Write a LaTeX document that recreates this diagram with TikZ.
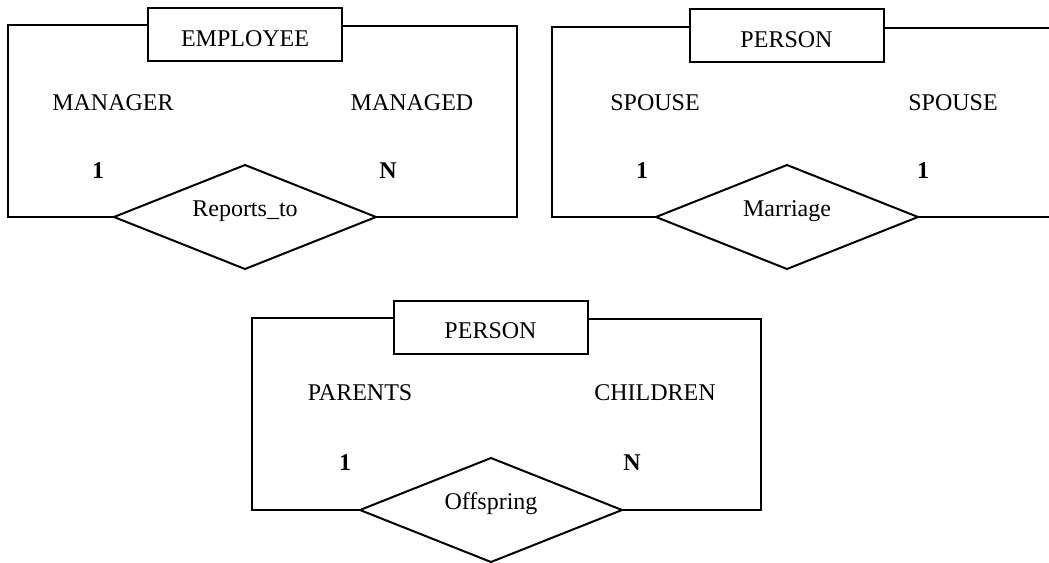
\documentclass[tikz,border=0pt]{standalone}
\usepackage{fontspec}
\setmainfont{Liberation Serif}
\usetikzlibrary{shapes.geometric}

\tikzset{
  conn/.style={line width=2pt, line join=miter},
  entity/.style={draw, rectangle, line width=2pt, minimum width=194pt,
    minimum height=53pt, inner sep=0pt, outer sep=0pt,
    text height=23pt, text depth=0pt, font=\fontsize{24}{28}\selectfont},
  relship/.style={draw, diamond, line width=2pt, aspect=2.5,
    minimum width=262pt, minimum height=104pt, inner sep=0pt, outer sep=0pt},
  relname/.style={anchor=base, inner sep=0pt, font=\fontsize{24}{28}\selectfont},
  role/.style={anchor=base, inner sep=0pt, font=\fontsize{24}{28}\selectfont},
  card/.style={anchor=base, inner sep=0pt, font=\fontsize{24}{28}\selectfont\bfseries},
}

\begin{document}
\begin{tikzpicture}[x=1pt, y=-1pt]
  \useasboundingbox (0,0) rectangle (1049,562);

  % ---------- EMPLOYEE / Reports_to ----------
  \node[entity] (emp) at (245,34.5) {EMPLOYEE};
  \node[relship] (rep) at (245,217) {};
  \node[relname] (repT) at (245,216) {Reports\_to};
  \node[role] (mgr) at (113,110) {MANAGER};
  \node[role] (mgd) at (412,110) {MANAGED};
  \node[card] (c1a) at (98,178) {1};
  \node[card] (c1b) at (388,178) {N};
  \coordinate (a1) at (8,25);
  \coordinate (a2) at (517,26);
  \draw[conn] (emp.west |- a1) -- (a1) |- (rep.west);
  \draw[conn] (emp.east |- a2) -- (a2) |- (rep.east);

  % ---------- PERSON / Marriage ----------
  \node[entity] (per1) at (786.5,35.5) {PERSON};
  \node[relship] (mar) at (787,217) {};
  \node[relname] (marT) at (787,216) {Marriage};
  \node[role] (sp1) at (655,110) {SPOUSE};
  \node[role] (sp2) at (953,110) {SPOUSE};
  \node[card] (c2a) at (642,178) {1};
  \node[card] (c2b) at (923,178) {1};
  \coordinate (b1) at (552,27);
  \coordinate (b2) at (1049,28);
  \draw[conn] (per1.west |- b1) -- (b1) |- (mar.west);
  \draw[conn] (per1.east |- b2) -- (b2);
  \draw[conn] (mar.east) -- (mar.east -| b2);

  % ---------- PERSON / Offspring ----------
  \node[entity] (per2) at (490.5,327) {PERSON};
  \node[relship] (off) at (491,510) {};
  \node[relname] (offT) at (491,509) {Offspring};
  \node[role] (par) at (360,400) {PARENTS};
  \node[role] (chi) at (655,400) {CHILDREN};
  \node[card] (c3a) at (345,470) {1};
  \node[card] (c3b) at (632,470) {N};
  \coordinate (d1) at (252,318);
  \coordinate (d2) at (761,319);
  \draw[conn] (per2.west |- d1) -- (d1) |- (off.west);
  \draw[conn] (per2.east |- d2) -- (d2) |- (off.east);
\end{tikzpicture}
\end{document}
